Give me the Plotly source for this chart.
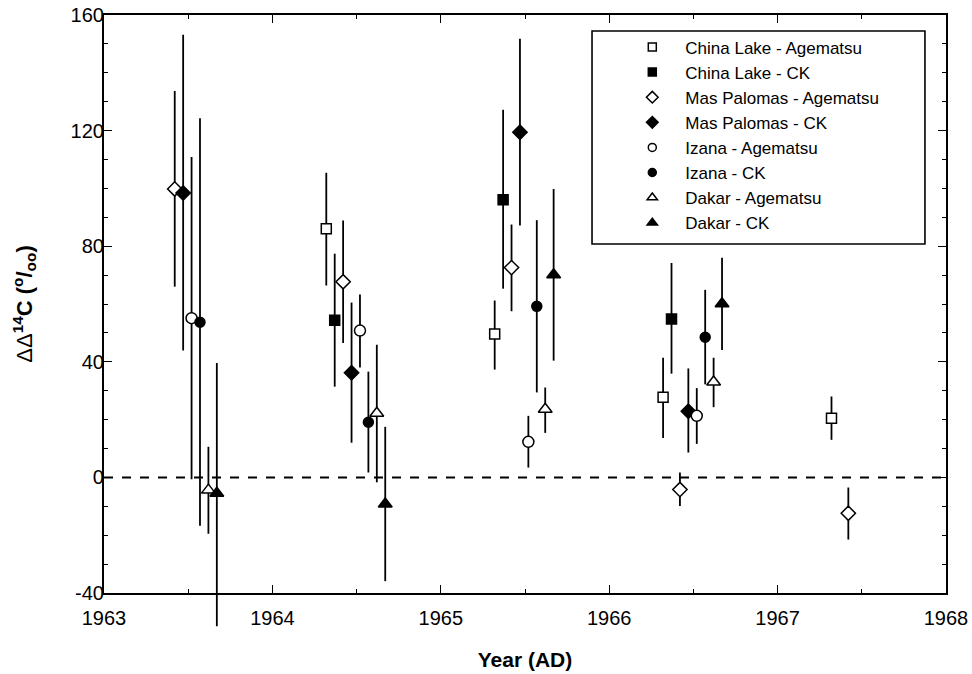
import plotly.graph_objects as go

# ---- data ----
series_names = ["China Lake - Agematsu", "China Lake - CK", "Mas Palomas - Agematsu",
                "Mas Palomas - CK", "Izana - Agematsu", "Izana - CK",
                "Dakar - Agematsu", "Dakar - CK"]

cla_x = [1964.32, 1965.32, 1966.32, 1967.32]
cla_y = [86.0, 49.6, 27.7, 20.5]
cla_hi = [105.4, 61.2, 41.4, 28.0]
cla_lo = [66.4, 37.3, 13.6, 13.0]

clck_x = [1964.37, 1965.37, 1966.37]
clck_y = [54.4, 96.1, 54.8]
clck_hi = [77.4, 127.2, 74.2]
clck_lo = [31.4, 65.3, 35.9]

mpa_x = [1963.42, 1964.42, 1965.42, 1966.42, 1967.42]
mpa_y = [99.8, 67.7, 72.6, -4.2, -12.4]
mpa_hi = [133.7, 88.9, 87.5, 1.7, -3.5]
mpa_lo = [66.0, 46.5, 57.5, -9.9, -21.5]

mpck_x = [1963.47, 1964.47, 1965.47, 1966.47]
mpck_y = [98.4, 36.2, 119.4, 22.9]
mpck_hi = [153.2, 60.5, 151.8, 37.7]
mpck_lo = [43.9, 12.0, 87.2, 8.6]

iza_x = [1963.52, 1964.52, 1965.52, 1966.52]
iza_y = [55.1, 50.8, 12.3, 21.3]
iza_hi = [110.9, 63.3, 21.3, 30.9]
iza_lo = [-0.6, 38.0, 3.4, 11.6]

izck_x = [1963.57, 1964.57, 1965.57, 1966.57]
izck_y = [53.7, 19.1, 59.2, 48.5]
izck_hi = [124.3, 36.6, 89.0, 64.9]
izck_lo = [-16.7, 1.7, 29.4, 32.2]

dka_x = [1963.62, 1964.62, 1965.62, 1966.62]
dka_y = [-4.4, 22.2, 23.6, 33.0]
dka_hi = [10.6, 45.9, 31.1, 41.4]
dka_lo = [-19.5, -1.7, 15.4, 24.3]

dkck_x = [1963.67, 1964.67, 1965.67, 1966.67]
dkck_y = [-5.5, -9.2, 70.1, 60.1]
dkck_hi = [39.6, 17.5, 99.8, 76.0]
dkck_lo = [-51.5, -35.9, 40.4, 44.1]

x_range = [1963, 1968]
y_range = [-40, 160]
x_tickvals = [1963, 1964, 1965, 1966, 1967, 1968]
x_ticktext = ["1963", "1964", "1965", "1966", "1967", "1968"]
y_tickvals = [-40, 0, 40, 80, 120, 160]
y_ticktext = ["-40", "0", "40", "80", "120", "160"]

# ---- styles ----
styles = [
    ("square", "white", 10),
    ("square", "black", 10),
    ("diamond", "white", 11),
    ("diamond", "black", 11),
    ("circle", "white", 11),
    ("circle", "black", 10),
    ("triangle-up", "white", 12),
    ("triangle-up", "black", 12),
]
legend_sizes = [8, 8, 9, 9, 8, 8, 9, 9]
data = [
    (cla_x, cla_y, cla_hi, cla_lo),
    (clck_x, clck_y, clck_hi, clck_lo),
    (mpa_x, mpa_y, mpa_hi, mpa_lo),
    (mpck_x, mpck_y, mpck_hi, mpck_lo),
    (iza_x, iza_y, iza_hi, iza_lo),
    (izck_x, izck_y, izck_hi, izck_lo),
    (dka_x, dka_y, dka_hi, dka_lo),
    (dkck_x, dkck_y, dkck_hi, dkck_lo),
]

fig = go.Figure()
for name, (xs, ys, his, los), (sym, fill, size) in zip(series_names, data, styles):
    plus = [h - y for h, y in zip(his, ys)]
    minus = [y - l for y, l in zip(ys, los)]
    fig.add_trace(go.Scatter(
        x=xs, y=ys, mode="markers", name=name, showlegend=False,
        marker=dict(symbol=sym, color=fill, size=size,
                    line=dict(color="black", width=1.5)),
        error_y=dict(type="data", symmetric=False, array=plus, arrayminus=minus,
                     color="black", thickness=1.8, width=0),
        cliponaxis=False,
    ))

# legend entries (smaller symbols, as in the reference legend)
for name, (sym, fill, size), lsize in zip(series_names, styles, legend_sizes):
    fig.add_trace(go.Scatter(
        x=[None], y=[None], mode="markers", name=name,
        marker=dict(symbol=sym, color=fill, size=lsize,
                    line=dict(color="black", width=1.5)),
    ))

# error bars that run below the axis (not clipped in the reference)
for xs, los in [(d[0], d[3]) for d in data]:
    for xv, lv in zip(xs, los):
        if lv < y_range[0]:
            fig.add_shape(type="line", xref="x", yref="paper",
                          x0=xv, x1=xv, y0=0,
                          y1=(lv - y_range[0]) / (y_range[1] - y_range[0]),
                          line=dict(color="black", width=1.8))

fig.add_shape(type="line", xref="paper", yref="y", x0=0, x1=1, y0=0, y1=0,
              line=dict(color="black", width=2, dash="dash"), layer="below")

# legend frame
fig.add_shape(type="rect", xref="paper", yref="paper",
              x0=0.5796, x1=0.975, y0=0.6038, y1=0.9723,
              line=dict(color="black", width=1.6), fillcolor="rgba(0,0,0,0)",
              layer="above")

font_family = "Liberation Sans, Arial, Helvetica, sans-serif"
fig.update_layout(
    width=972, height=674,
    margin=dict(l=104, r=26, t=15, b=81),
    paper_bgcolor="white", plot_bgcolor="white",
    font=dict(family=font_family, color="black", size=18),
    showlegend=True,
    legend=dict(
        x=0.612, y=0.975, xanchor="left", yanchor="top",
        bgcolor="rgba(0,0,0,0)", borderwidth=0,
        font=dict(size=17, family=font_family, color="black"),
        itemwidth=56, traceorder="normal",
    ),
    xaxis=dict(
        range=x_range, tickvals=x_tickvals, ticktext=x_ticktext,
        ticks="inside", ticklen=8, tickwidth=1.2, tickcolor="black",
        minor=dict(dtick=0.5, tick0=1963, ticks="inside", ticklen=4, tickwidth=1.2, tickcolor="black"),
        showline=True, linewidth=2.2, linecolor="black", mirror="ticks",
        showgrid=False, zeroline=False, automargin=False,
        tickfont=dict(size=20), ticklabelstandoff=6,
        title=dict(text="<b>Year (AD)</b>", font=dict(size=21), standoff=24),
    ),
    yaxis=dict(
        range=y_range, tickvals=y_tickvals, ticktext=y_ticktext,
        ticks="inside", ticklen=8, tickwidth=1.2, tickcolor="black",
        minor=dict(dtick=10, tick0=0, ticks="inside", ticklen=4, tickwidth=1.2, tickcolor="black"),
        showline=True, linewidth=2.2, linecolor="black", mirror="ticks",
        showgrid=False, zeroline=False, automargin=False,
        tickfont=dict(size=20), ticklabelstandoff=-6,
        title=dict(text="ΔΔ<b><sup>14</sup>C (<sup>o</sup>/<sub>oo</sub>)</b>", font=dict(size=22), standoff=32),
    ),
)

fig.write_html("out.html")
